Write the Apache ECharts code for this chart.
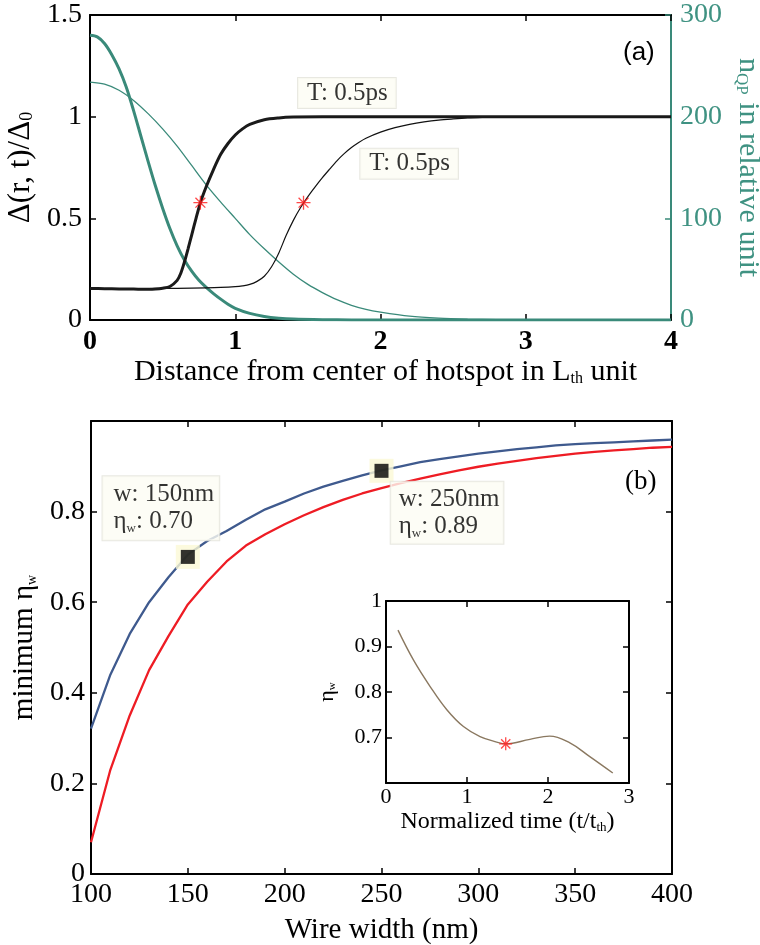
<!DOCTYPE html>
<html>
<head>
<meta charset="utf-8">
<script src="https://cdn.jsdelivr.net/npm/echarts@6/dist/echarts.min.js"></script>
<style>html,body{margin:0;padding:0;background:#fff;}#c{width:760px;height:945px;}</style>
</head>
<body>
<div id="c"></div>
<script>
// ---------- Panel (a) data ----------
const gapThickX = [0, 0.1, 0.2, 0.3, 0.4, 0.45, 0.5, 0.55, 0.6, 0.625, 0.65, 0.675, 0.7, 0.73, 0.76, 0.8, 0.85, 0.9, 0.95, 1.0, 1.05, 1.1, 1.2, 1.3, 1.4, 1.6, 2, 3, 4];
const gapThickY = [0.155, 0.154, 0.153, 0.152, 0.151, 0.152, 0.156, 0.165, 0.195, 0.23, 0.285, 0.35, 0.418, 0.5, 0.577, 0.655, 0.74, 0.815, 0.868, 0.91, 0.94, 0.962, 0.985, 0.994, 0.998, 1.0, 1.0, 1.0, 1.0];
const gapThinX = [0, 0.2, 0.4, 0.6, 0.8, 0.9, 1.0, 1.05, 1.1, 1.15, 1.2, 1.25, 1.3, 1.35, 1.4, 1.45, 1.5, 1.55, 1.6, 1.65, 1.7, 1.75, 1.8, 1.85, 1.9, 2.0, 2.1, 2.2, 2.3, 2.4, 2.5, 2.6, 2.7, 2.8, 3, 4];
const gapThinY = [0.155, 0.155, 0.155, 0.156, 0.158, 0.16, 0.164, 0.168, 0.175, 0.19, 0.215, 0.262, 0.33, 0.415, 0.49, 0.553, 0.607, 0.655, 0.70, 0.742, 0.783, 0.818, 0.848, 0.873, 0.894, 0.924, 0.946, 0.962, 0.974, 0.983, 0.989, 0.994, 0.997, 0.999, 1.0, 1.0];
const nqpThickX = [0, 0.05, 0.1, 0.15, 0.2, 0.25, 0.3, 0.35, 0.4, 0.45, 0.5, 0.55, 0.6, 0.65, 0.7, 0.75, 0.8, 0.85, 0.9, 0.95, 1.0, 1.1, 1.2, 1.3, 1.4, 1.6, 1.8, 2, 4];
const nqpThickY = [280, 278.5, 272, 261, 247, 229, 206, 181, 156, 132, 110, 90, 73, 59, 48, 39, 32, 26, 20.5, 15.5, 11.5, 6.5, 3.5, 1.8, 0.9, 0.3, 0.1, 0, 0];
const nqpThinX = [0, 0.1, 0.2, 0.3, 0.4, 0.5, 0.6, 0.7, 0.8, 0.9, 1.0, 1.1, 1.2, 1.3, 1.4, 1.5, 1.6, 1.7, 1.8, 1.9, 2.0, 2.2, 2.4, 2.6, 2.8, 3.0, 3.5, 4];
const nqpThinY = [234, 232, 226, 216, 203, 188, 171, 152, 133, 116, 100, 84, 70, 57, 45, 35, 27, 20, 14.5, 10.5, 7.8, 3.8, 1.8, 0.8, 0.3, 0.1, 0, 0];
const starAX = [0.76, 1.47];
const starAY = [0.577, 0.577];
const starALabels = ['T: 0.5ps', 'T: 0.5ps'];

// ---------- Panel (b) data ----------
const wireWidth = [100, 110, 120, 130, 140, 150, 160, 170, 180, 190, 200, 210, 220, 230, 240, 250, 260, 270, 280, 290, 300, 310, 320, 330, 340, 350, 360, 370, 380, 390, 400];
const etaBlue = [0.321, 0.44, 0.53, 0.60, 0.655, 0.705, 0.735, 0.757, 0.782, 0.805, 0.822, 0.84, 0.855, 0.868, 0.880, 0.891, 0.900, 0.909, 0.916, 0.922, 0.928, 0.933, 0.938, 0.942, 0.946, 0.949, 0.951, 0.953, 0.955, 0.957, 0.959];
const etaRed = [0.07, 0.23, 0.35, 0.45, 0.525, 0.595, 0.645, 0.69, 0.725, 0.75, 0.772, 0.792, 0.81, 0.826, 0.84, 0.852, 0.863, 0.873, 0.882, 0.891, 0.899, 0.906, 0.912, 0.918, 0.923, 0.928, 0.932, 0.935, 0.938, 0.941, 0.943];
const markW = [150, 250];
const markEta = [0.70, 0.89];

// ---------- Inset data ----------
const insetT = [0.148, 0.34, 0.545, 0.751, 0.956, 1.161, 1.367, 1.478, 1.777, 2.02, 2.27, 2.516, 2.80];
const insetEta = [0.936, 0.870, 0.812, 0.761, 0.724, 0.702, 0.690, 0.686, 0.696, 0.703, 0.688, 0.658, 0.622];
const insetStarT = [1.478];
const insetStarEta = [0.686];

// ---------- styles ----------
const SERIF = 'Liberation Serif';
const TEAL = '#3a8a7a';
const TEAL_TXT = '#3f9282';
const zip = (a, b) => a.map((v, i) => [v, b[i]]);
const starPath = 'path://M0,-10L0,10M-10,0L10,0M-7.07,-7.07L7.07,7.07M-7.07,7.07L7.07,-7.07';
const boxStyle = {backgroundColor: '#fdfcf4', borderColor: '#e2e2da', borderWidth: 1};

function frameAxis(gridIndex, pos, min, max, interval, color, extra) {
  return Object.assign({
    type: 'value', gridIndex, position: pos, min, max, interval,
    axisLine: {show: true, onZero: false, lineStyle: {color: color || '#000', width: 2}},
    axisTick: {show: true, inside: true, length: 6, lineStyle: {color: color || '#000', width: 1.5}},
    axisLabel: {show: false},
    splitLine: {show: false}
  }, extra || {});
}

const tickFont = {fontFamily: SERIF, fontSize: 28, color: '#000'};

const option = {
  animation: false,
  backgroundColor: '#fff',
  grid: [
    {left: 90, top: 15, width: 581, height: 305, outerBoundsMode: 'none', containLabel: false},
    {left: 91, top: 421, width: 581, height: 453, outerBoundsMode: 'none', containLabel: false},
    {left: 386, top: 601, width: 243, height: 182, outerBoundsMode: 'none', containLabel: false}
  ],
  xAxis: [
    frameAxis(0, 'bottom', 0, 4, 1, '#000', {
      axisLabel: Object.assign({show: true, margin: 8, fontWeight: 'bold'}, tickFont),
      name: 'Distance from center of hotspot in L{s|th} unit',
      nameLocation: 'middle', nameGap: 31,
      nameTextStyle: {fontFamily: SERIF, fontSize: 30, color: '#000', padding: [0, 0, 0, 10],
        rich: {s: {fontFamily: SERIF, fontSize: 16, verticalAlign: 'bottom', lineHeight: 14, color: '#000'}}}
    }),
    frameAxis(0, 'top', 0, 4, 1),
    frameAxis(1, 'bottom', 100, 400, 50, '#000', {
      axisLabel: Object.assign({show: true, margin: 7}, tickFont),
      name: 'Wire width (nm)', nameLocation: 'middle', nameGap: 42,
      nameTextStyle: {fontFamily: SERIF, fontSize: 29, color: '#000'}
    }),
    frameAxis(1, 'top', 100, 400, 50),
    frameAxis(2, 'bottom', 0, 3, 1, '#000', {
      axisLabel: {show: true, margin: 3, fontFamily: SERIF, fontSize: 22, color: '#000'},
      name: 'Normalized time (t/t{s|th})', nameLocation: 'middle', nameGap: 27,
      nameTextStyle: {fontFamily: SERIF, fontSize: 24, color: '#000',
        rich: {s: {fontFamily: SERIF, fontSize: 13, verticalAlign: 'bottom', lineHeight: 12, color: '#000'}}}
    }),
    frameAxis(2, 'top', 0, 3, 1)
  ],
  yAxis: [
    frameAxis(0, 'left', 0, 1.5, 0.5, '#000', {
      axisLabel: Object.assign({show: true, margin: 8}, tickFont),
      name: 'Δ(r, t)/Δ{s|0}', nameLocation: 'middle', nameGap: 40, nameRotate: 90,
      nameTextStyle: {fontFamily: SERIF, fontSize: 31, color: '#000',
        rich: {s: {fontFamily: SERIF, fontSize: 18, verticalAlign: 'bottom', lineHeight: 14, color: '#000'}}}
    }),
    frameAxis(0, 'right', 0, 300, 100, TEAL, {
      axisLabel: Object.assign({}, tickFont, {show: true, margin: 9, color: TEAL_TXT}),
      name: 'n{s|QP} in relative unit', nameLocation: 'middle', nameGap: 51, nameRotate: -90,
      nameTextStyle: {fontFamily: SERIF, fontSize: 30, color: TEAL_TXT,
        rich: {s: {fontFamily: SERIF, fontSize: 17, verticalAlign: 'bottom', lineHeight: 14, color: TEAL_TXT}}}
    }),
    frameAxis(1, 'left', 0, 1, 0.2, '#000', {
      axisLabel: Object.assign({show: true, margin: 6, showMaxLabel: false}, tickFont),
      name: 'minimum η{s|w}', nameLocation: 'middle', nameGap: 44, nameRotate: 90,
      nameTextStyle: {fontFamily: SERIF, fontSize: 29, color: '#000',
        rich: {s: {fontFamily: SERIF, fontSize: 14, verticalAlign: 'bottom', lineHeight: 12, color: '#000'}}}
    }),
    frameAxis(1, 'right', 0, 1, 0.2),
    frameAxis(2, 'left', 0.6, 1, 0.1, '#000', {
      axisLabel: {show: true, margin: 4, showMinLabel: false, fontFamily: SERIF, fontSize: 22, color: '#000'},
      name: 'η{s|w}', nameLocation: 'middle', nameGap: 48, nameRotate: 90,
      nameTextStyle: {fontFamily: SERIF, fontSize: 22, color: '#000',
        rich: {s: {fontFamily: SERIF, fontSize: 11, verticalAlign: 'bottom', lineHeight: 10, color: '#000'}}}
    }),
    frameAxis(2, 'right', 0.6, 1, 0.1)
  ],
  graphic: [
    {type: 'text', left: 623, top: 40, style: {text: '(a)', font: '26px "Liberation Sans"', fill: '#000'}},
    {type: 'text', left: 625, top: 468, style: {text: '(b)', font: '27px "Liberation Serif"', fill: '#000'}}
  ],
  series: [
    {type: 'line', xAxisIndex: 0, yAxisIndex: 1, data: zip(nqpThinX, nqpThinY), smooth: 0.3, showSymbol: false,
      lineStyle: {color: TEAL, width: 1.3}, z: 2},
    {type: 'line', xAxisIndex: 0, yAxisIndex: 1, data: zip(nqpThickX, nqpThickY), smooth: 0.3, showSymbol: false,
      lineStyle: {color: TEAL, width: 3}, z: 2},
    {type: 'line', xAxisIndex: 0, yAxisIndex: 0, data: zip(gapThinX, gapThinY), smooth: 0.3, showSymbol: false,
      lineStyle: {color: '#111', width: 1.2}, z: 3},
    {type: 'line', xAxisIndex: 0, yAxisIndex: 0, data: zip(gapThickX, gapThickY), smooth: 0.3, showSymbol: false,
      lineStyle: {color: '#1a1a1a', width: 3}, z: 3},
    {type: 'scatter', xAxisIndex: 0, yAxisIndex: 0, symbol: starPath, symbolSize: 14, z: 5,
      itemStyle: {color: '#ff1a1a', borderColor: '#ff1a1a', borderWidth: 1.3},
      data: starAX.map((x, i) => ({
        value: [x, starAY[i]],
        label: Object.assign({show: true, position: 'inside', formatter: starALabels[i],
          offset: i === 0 ? [146.5, -109.7] : [105.6, -39],
          fontFamily: SERIF, fontSize: 25, color: '#000', lineHeight: 26, padding: [2, 8, 2, 9]}, boxStyle)
      }))},
    // panel (b)
    {type: 'line', xAxisIndex: 2, yAxisIndex: 2, data: zip(wireWidth, etaRed), showSymbol: false,
      lineStyle: {color: '#ee1c24', width: 2.3}, z: 2},
    {type: 'line', xAxisIndex: 2, yAxisIndex: 2, data: zip(wireWidth, etaBlue), showSymbol: false,
      lineStyle: {color: '#3f5a8e', width: 2.3}, z: 2},
    {type: 'scatter', xAxisIndex: 2, yAxisIndex: 2, symbol: 'rect', symbolSize: 24, z: 4,
      itemStyle: {color: '#fbf9d6'}, data: zip(markW, markEta)},
    {type: 'scatter', xAxisIndex: 2, yAxisIndex: 2, symbol: 'rect', symbolSize: 14, z: 5,
      itemStyle: {color: '#000'},
      data: markW.map((w, i) => ({
        value: [w, markEta[i]],
        label: Object.assign({show: true, position: 'inside',
          formatter: 'w: ' + w + 'nm\n{n|η}{s|w}{n|: ' + markEta[i].toFixed(2) + '}',
          offset: i === 0 ? [-85.3, -48.7] : [9.2, 41.9],
          align: 'left',
          fontFamily: SERIF, fontSize: 25, color: '#000', lineHeight: 27,
          padding: i === 0 ? [5, 5, 5, 11] : [4, 4, 4, 8],
          rich: {
            n: {fontFamily: SERIF, fontSize: 25, color: '#000', lineHeight: 27},
            s: {fontFamily: SERIF, fontSize: 13, color: '#000', verticalAlign: 'bottom', lineHeight: 12}
          }}, boxStyle)
      }))},
    // inset
    {type: 'line', xAxisIndex: 4, yAxisIndex: 4, data: zip(insetT, insetEta), smooth: 0.4, showSymbol: false,
      lineStyle: {color: '#8a7860', width: 1.4}, z: 3},
    {type: 'scatter', xAxisIndex: 4, yAxisIndex: 4, symbol: starPath, symbolSize: 13, z: 5,
      itemStyle: {color: '#ff1a1a', borderColor: '#ff1a1a', borderWidth: 1.3},
      data: zip(insetStarT, insetStarEta)}
  ]
};

const chart = echarts.init(document.getElementById('c'), null, {renderer: 'canvas'});
chart.setOption(option);
</script>
</body>
</html>
